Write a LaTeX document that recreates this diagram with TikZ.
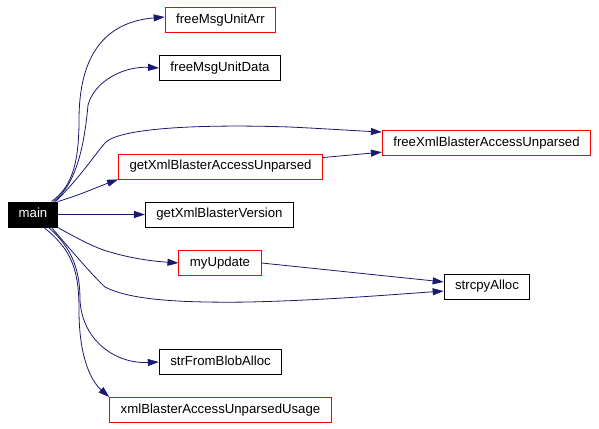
\documentclass[tikz,border=0pt]{standalone}
\usepackage{fontspec}
\setmainfont{Liberation Sans}
\usetikzlibrary{arrows.meta}
\definecolor{cgblue}{RGB}{25,25,112}
\definecolor{cgred}{RGB}{255,0,0}

\begin{document}
\begin{tikzpicture}[x=1pt,y=-1pt,
  fn/.style={draw=black,line width=0.9pt,inner xsep=11pt,minimum height=25pt,
    text height=9.6pt,text depth=2.8pt,font=\fontsize{13.2}{15}\selectfont},
  fnref/.style={fn,draw=cgred},
  root/.style={fn,fill=black,text=white,inner xsep=10pt},
  call/.style={-{Triangle[length=11pt,width=7pt]},cgblue,line width=0.8pt}]
\useasboundingbox (0,0) rectangle (599,428);
% Functions
\node[root] (main) at (33,214.5) {main};
\node[fnref] (freeMsgUnitArr) at (220.5,20) {freeMsgUnitArr};
\node[fn] (freeMsgUnitData) at (220,68) {freeMsgUnitData};
\node[fnref] (getAccess) at (220.5,166.5) {getXmlBlasterAccessUnparsed};
\node[fn] (getVersion) at (219.5,214.5) {getXmlBlasterVersion};
\node[fnref] (freeAccess) at (486.5,143) {freeXmlBlasterAccessUnparsed};
\node[fnref] (myUpdate) at (220,263) {myUpdate};
\node[fn] (strcpyAlloc) at (487,286.5) {strcpyAlloc};
\node[fn] (strFromBlobAlloc) at (220.5,362) {strFromBlobAlloc};
\node[fnref] (usage) at (220.5,410) {xmlBlasterAccessUnparsedUsage};
% Calls from main
\draw[call] (main.35) .. controls (70,188) and (79,168) .. (79,120)
  .. controls (79,55) and (105,22) .. ([yshift=3pt]freeMsgUnitArr.west);
\draw[call] (main.32) .. controls (75,185) and (84,150) .. (88,105)
  .. controls (95,80) and (125,66) .. (freeMsgUnitData.west);
\draw[call] (main.30) .. controls (80,178) and (98,150) .. (106,142)
  .. controls (122,128) and (200,124) .. (290,127)
  .. controls (330,129) and (360,131) .. (freeAccess.174);
\draw[call] (main.north east) .. controls (80,195) and (100,186) .. (getAccess.south west);
\draw[call] (main.east) -- (getVersion.west);
\draw[call] (main.south east) .. controls (80,240) and (98,249) .. (110,252)
  .. controls (130,258) and (150,261) .. (myUpdate.west);
\draw[call] (main.-35) .. controls (75,255) and (95,278) .. (105,287)
  .. controls (130,300) and (180,303) .. (250,302)
  .. controls (330,300) and (400,294) .. (strcpyAlloc.186);
\draw[call] (main.-40) .. controls (75,250) and (80,275) .. (80,300)
  .. controls (82,340) and (115,364) .. (strFromBlobAlloc.west);
\draw[call] (main.-50) .. controls (72,250) and (79,270) .. (79,310)
  .. controls (79,355) and (90,380) .. (usage.north west);
% Other calls
\draw[call] (getAccess.5) -- (freeAccess.185);
\draw[call] (myUpdate.east) -- (strcpyAlloc.174);
\end{tikzpicture}
\end{document}
